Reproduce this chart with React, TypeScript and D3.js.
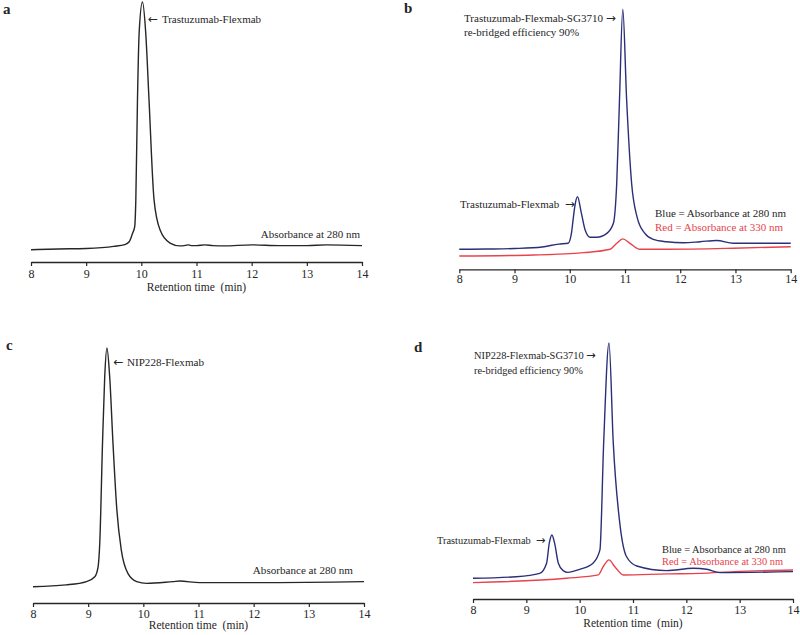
import React, { useRef, useEffect } from "react";
import * as d3 from "d3";

// retention time (min) / relative absorbance
const tA = [8, 8.5, 9, 9.5, 9.7, 9.78, 9.84, 9.88, 9.9, 9.93, 9.96, 10.02, 10.08, 10.14, 10.23, 10.34, 10.52, 10.7, 10.8, 10.85, 10.9, 11.0, 11.15, 11.3, 11.5, 12.0, 12.5, 13.0, 13.35, 14];
const absA = [4.7, 5.0, 5.2, 6.0, 6.7, 7.8, 11, 13.6, 23.8, 62.3, 88, 100, 88, 62, 24, 12.3, 7.3, 6.2, 6.4, 6.6, 6.3, 6.3, 6.6, 6.3, 6.2, 6.6, 6.3, 6.3, 6.6, 6.3];

const tB280 = [8, 8.5, 9, 9.5, 9.8, 9.97, 10.03, 10.06, 10.09, 10.14, 10.21, 10.28, 10.37, 10.49, 10.67, 10.79, 10.85, 10.9, 10.96, 11.03, 11.12, 11.22, 11.36, 11.51, 11.75, 12.06, 12.36, 12.66, 12.96, 13.56, 14];
const absB280 = [7.7, 7.8, 8.0, 8.6, 9.7, 10, 13.8, 19, 24, 27.9, 21.6, 15, 12.3, 12.3, 13.8, 17.7, 33, 65, 100, 65, 33, 20, 13.8, 11.5, 10.6, 10.2, 10.6, 11.1, 10, 10, 10];
const tB330 = [8, 9.34, 10.25, 10.73, 10.85, 10.96, 11.09, 11.27, 11.75, 12.96, 14];
const absB330 = [5.1, 5.5, 6.4, 7.7, 10, 11.7, 10, 7.7, 7.7, 8.1, 8.7];

const tC = [8, 8.6, 8.97, 9.12, 9.18, 9.21, 9.26, 9.3, 9.34, 9.39, 9.45, 9.52, 9.6, 9.72, 9.88, 10.06, 10.54, 10.66, 11.02, 12.23, 13.44, 14];
const absC = [6.4, 7.1, 8.4, 10.3, 14.2, 23.4, 62.6, 88.7, 100, 88.7, 62.6, 36.5, 20.8, 11.6, 8.4, 7.7, 8.4, 8.6, 8.0, 8.0, 8.2, 8.4];

const tD280 = [8, 8.81, 9.25, 9.38, 9.43, 9.48, 9.53, 9.6, 9.69, 9.78, 10, 10.25, 10.38, 10.45, 10.55, 10.63, 10.76, 10.88, 11.07, 11.63, 12.13, 12.38, 12.63, 14];
const absD280 = [8.1, 8.7, 10, 14, 21.8, 25, 21.8, 14, 11.1, 10.4, 11.6, 14, 19.2, 60.9, 100, 61, 28.3, 16.5, 12.9, 11.1, 12, 11.6, 10.3, 10.7];
const tD330 = [8, 9.75, 10.35, 10.44, 10.55, 10.66, 10.82, 11.63, 12.26, 12.88, 14];
const absD330 = [6.4, 8.1, 9.4, 12.6, 15.3, 12.6, 9.4, 9.8, 10, 10.7, 11.3];

const xTicks = [8, 9, 10, 11, 12, 13, 14];

const BLACK = "#262626";
const BLUE = "#2b2f78";
const RED = "#e8424c";
const FONT = "Liberation Serif";
const ARROW_FONT = "DejaVu Sans";

const panels = [
  {
    letter: "a", lx: 3, ly: 14, fs: 11,
    left: 31, right: 362, axisY: 262, topY: 2, tickPad: 3, titleGap: 29,
    series: [{ t: tA, v: absA, color: BLACK }],
    notes: [
      { pre: "\u2190 ", text: "Trastuzumab-Flexmab", post: "", x: 148, y: 19, anchor: "start", color: BLACK },
      { pre: "", text: "Absorbance at 280 nm", post: "", x: 360, y: 234, anchor: "end", color: BLACK },
    ],
  },
  {
    letter: "b", lx: 404, ly: 13, fs: 11,
    left: 459.3, right: 790.7, axisY: 269.3, topY: 9.3, tickPad: 1, titleGap: 0,
    series: [
      { t: tB330, v: absB330, color: RED },
      { t: tB280, v: absB280, color: BLUE },
    ],
    notes: [
      { pre: "", text: "Trastuzumab-Flexmab-SG3710 ", post: "\u2192", x: 464, y: 18, anchor: "start", color: BLACK },
      { pre: "", text: "re-bridged efficiency 90%", post: "", x: 464, y: 32, anchor: "start", color: BLACK },
      { pre: "", text: "Trastuzumab-Flexmab  ", post: "\u2192", x: 460, y: 204, anchor: "start", color: BLACK },
      { pre: "", text: "Blue = Absorbance at 280 nm", post: "", x: 655, y: 213, anchor: "start", color: BLACK },
      { pre: "", text: "Red = Absorbance at 330 nm", post: "", x: 655, y: 227, anchor: "start", color: RED },
    ],
  },
  {
    letter: "c", lx: 6, ly: 350, fs: 11.1,
    left: 33, right: 364, axisY: 603, topY: 348, tickPad: 2, titleGap: 26,
    series: [{ t: tC, v: absC, color: BLACK }],
    notes: [
      { pre: "\u2190 ", text: "NIP228-Flexmab", post: "", x: 113, y: 362, anchor: "start", color: BLACK },
      { pre: "", text: "Absorbance at 280 nm", post: "", x: 353, y: 570, anchor: "end", color: BLACK },
    ],
  },
  {
    letter: "d", lx: 414, ly: 352, fs: 10.4,
    left: 473, right: 793, axisY: 599, topY: 343, tickPad: 2, titleGap: 28,
    series: [
      { t: tD330, v: absD330, color: RED },
      { t: tD280, v: absD280, color: BLUE },
    ],
    notes: [
      { pre: "", text: "NIP228-Flexmab-SG3710 ", post: "\u2192", x: 474, y: 355, anchor: "start", color: BLACK },
      { pre: "", text: "re-bridged efficiency 90%", post: "", x: 474, y: 370, anchor: "start", color: BLACK },
      { pre: "", text: "Trastuzumab-Flexmab  ", post: "\u2192", x: 437, y: 540, anchor: "start", color: BLACK },
      { pre: "", text: "Blue = Absorbance at 280 nm", post: "", x: 662, y: 549, anchor: "start", color: BLACK },
      { pre: "", text: "Red = Absorbance at 330 nm", post: "", x: 662, y: 561, anchor: "start", color: RED },
    ],
  },
];

const App = () => {
  const svgRef = useRef<SVGSVGElement>(null);

  useEffect(() => {
    const svg = d3.select(svgRef.current);
    svg.selectAll("*").remove();
    svg.append("rect").attr("width", 800).attr("height", 635).attr("fill", "#fff");

    panels.forEach((p) => {
      const g = svg.append("g").style("font-family", FONT);
      const x = d3.scaleLinear().domain([8, 14]).range([p.left, p.right]);
      const y = d3.scaleLinear().domain([0, 100]).range([p.axisY, p.topY]);

      const axis = g
        .append("g")
        .attr("transform", `translate(0, ${p.axisY})`)
        .call(d3.axisBottom(x).tickValues(xTicks).tickFormat(d3.format("d")).tickSize(4).tickSizeOuter(0).tickPadding(p.tickPad));
      axis.attr("font-family", null).attr("font-size", null);
      axis.select(".domain").attr("stroke", BLACK).attr("stroke-width", 1.3);
      axis.selectAll(".tick line").attr("stroke", BLACK).attr("stroke-width", 1.2);
      axis.selectAll(".tick text").style("font-family", FONT).style("font-size", "12px").attr("fill", BLACK);

      if (p.titleGap) {
        g.append("text")
          .attr("x", (p.left + p.right) / 2)
          .attr("y", p.axisY + p.titleGap)
          .attr("text-anchor", "middle")
          .style("font-size", "11.5px")
          .attr("fill", BLACK)
          .style("white-space", "pre")
          .text("Retention time  (min)");
      }

      p.series.forEach((s) => {
        const pts = s.t.map((t, i) => [t, s.v[i]] as [number, number]);
        const line = d3
          .line<[number, number]>()
          .x((d) => x(d[0]))
          .y((d) => y(d[1]))
          .curve(d3.curveMonotoneX);
        g.append("path")
          .attr("d", line(pts))
          .attr("fill", "none")
          .attr("stroke", s.color)
          .attr("stroke-width", 1.4);
      });

      p.notes.forEach((n) => {
        const t = g
          .append("text")
          .attr("x", n.x)
          .attr("y", n.y)
          .attr("dy", "0.35em")
          .attr("text-anchor", n.anchor)
          .style("font-size", `${p.fs}px`)
          .style("white-space", "pre")
          .attr("fill", n.color);
        if (n.pre) t.append("tspan").style("font-family", ARROW_FONT).style("font-size", `${p.fs + 1}px`).text(n.pre);
        t.append("tspan").text(n.text);
        if (n.post) t.append("tspan").style("font-family", ARROW_FONT).style("font-size", `${p.fs + 1}px`).text(n.post);
      });

      g.append("text")
        .attr("x", p.lx)
        .attr("y", p.ly)
        .attr("font-weight", "bold")
        .style("font-size", "15px")
        .attr("fill", BLACK)
        .text(p.letter);
    });
  }, []);

  return (
    <svg
      ref={svgRef}
      width={800}
      height={635}
      style={{ position: "absolute", left: 0, top: 0 }}
    ></svg>
  );
};

export default App;
